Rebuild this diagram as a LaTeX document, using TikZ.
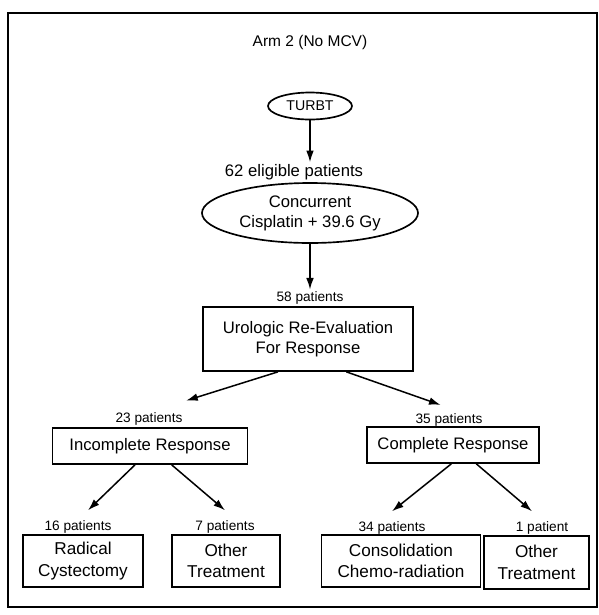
\documentclass[tikz,border=0pt]{standalone}
\usepackage{fontspec}
\setmainfont{Liberation Sans}
\usepackage{tikz}
\usetikzlibrary{arrows.meta, positioning, shapes.geometric}

\begin{document}
\begin{tikzpicture}[x=0.6pt, y=-0.6pt,
    box/.style={draw, line width=1pt, align=center, inner sep=0pt,
                font=\fontsize{10}{12}\selectfont},
    oval/.style={box, ellipse},
    leaf/.style={box, minimum height=31.2pt, font=\fontsize{10.3}{13}\selectfont},
    count/.style={inner sep=1pt, font=\fontsize{8.2}{9}\selectfont},
    arr/.style={-{Latex[length=7pt,width=4.6pt]}, line width=0.9pt}]
  \useasboundingbox (0,0) rectangle (599,615);

  % === Frame and title ===
  \draw[line width=0.8pt] (8,13) rectangle (597,607);
  \node[font=\fontsize{9.3}{11}\selectfont] (title) at (310,42) {Arm 2 (No MCV)};

  % === Top of the flow ===
  \node[oval, minimum width=50.4pt, minimum height=16.2pt,
        font=\fontsize{8.5}{10}\selectfont] (turbt) at (310,106) {TURBT};
  \node[count, font=\fontsize{10}{11}\selectfont] (lab62) at (294,172) {62 eligible patients};
  \node[oval, minimum width=129.6pt, minimum height=36pt] (conc) at (310,213)
        {Concurrent\\Cisplatin + 39.6 Gy};
  \node[count] (lab58) at (310,298) {58 patients};
  \node[box, minimum width=126pt, minimum height=38.4pt] (uro) at (308,339)
        {Urologic Re-Evaluation\\For Response};

  \draw[arr] (turbt) -- (turbt |- lab62.north);
  \draw[arr] (conc) -- (conc |- lab58.north);

  % === Second level ===
  \node[count] (lab23) at (149,419) {23 patients};
  \node[box, minimum width=117pt, minimum height=21.6pt] (inc) at (150,446) {Incomplete Response};
  \node[count] (lab35) at (449,420) {35 patients};
  \node[box, minimum width=103.2pt, minimum height=21.6pt] (comp) at (453,445) {Complete Response};

  \draw[arr] ([xshift=-18pt]uro.south) -- ([xshift=1pt,yshift=6pt]lab23.north east);
  \draw[arr] ([xshift=23pt]uro.south) -- ([xshift=-5pt,yshift=4pt]lab35.north);

  % === Bottom row ===
  \node[count] (lab16) at (78,527) {16 patients};
  \node[count] (lab7) at (225,527) {7 patients};
  \node[count] (lab34) at (392,528) {34 patients};
  \node[count] (lab1) at (542,528) {1 patient};

  \node[leaf, minimum width=72pt] (rad) at (83,561) {Radical\\Cystectomy};
  \node[leaf, minimum width=64.8pt] (oth1) at (226,561) {Other\\Treatment};
  \node[leaf, minimum width=95.4pt] (cons) at (401,561) {Consolidation\\Chemo-radiation};
  \node[leaf, minimum width=63pt, minimum height=31.8pt] (oth2) at (536.5,562.5) {Other\\Treatment};

  \draw[arr] ([xshift=-9pt]inc.south) -- ([xshift=6pt,yshift=5pt]lab16.north);
  \draw[arr] ([xshift=13pt]inc.south) -- ([yshift=5pt]lab7.north);
  \draw[arr] ([xshift=-1pt]comp.south) -- ([yshift=5pt]lab34.north);
  \draw[arr] ([xshift=14pt]comp.south) -- ([xshift=-6pt,yshift=5pt]lab1.north);
\end{tikzpicture}
\end{document}
